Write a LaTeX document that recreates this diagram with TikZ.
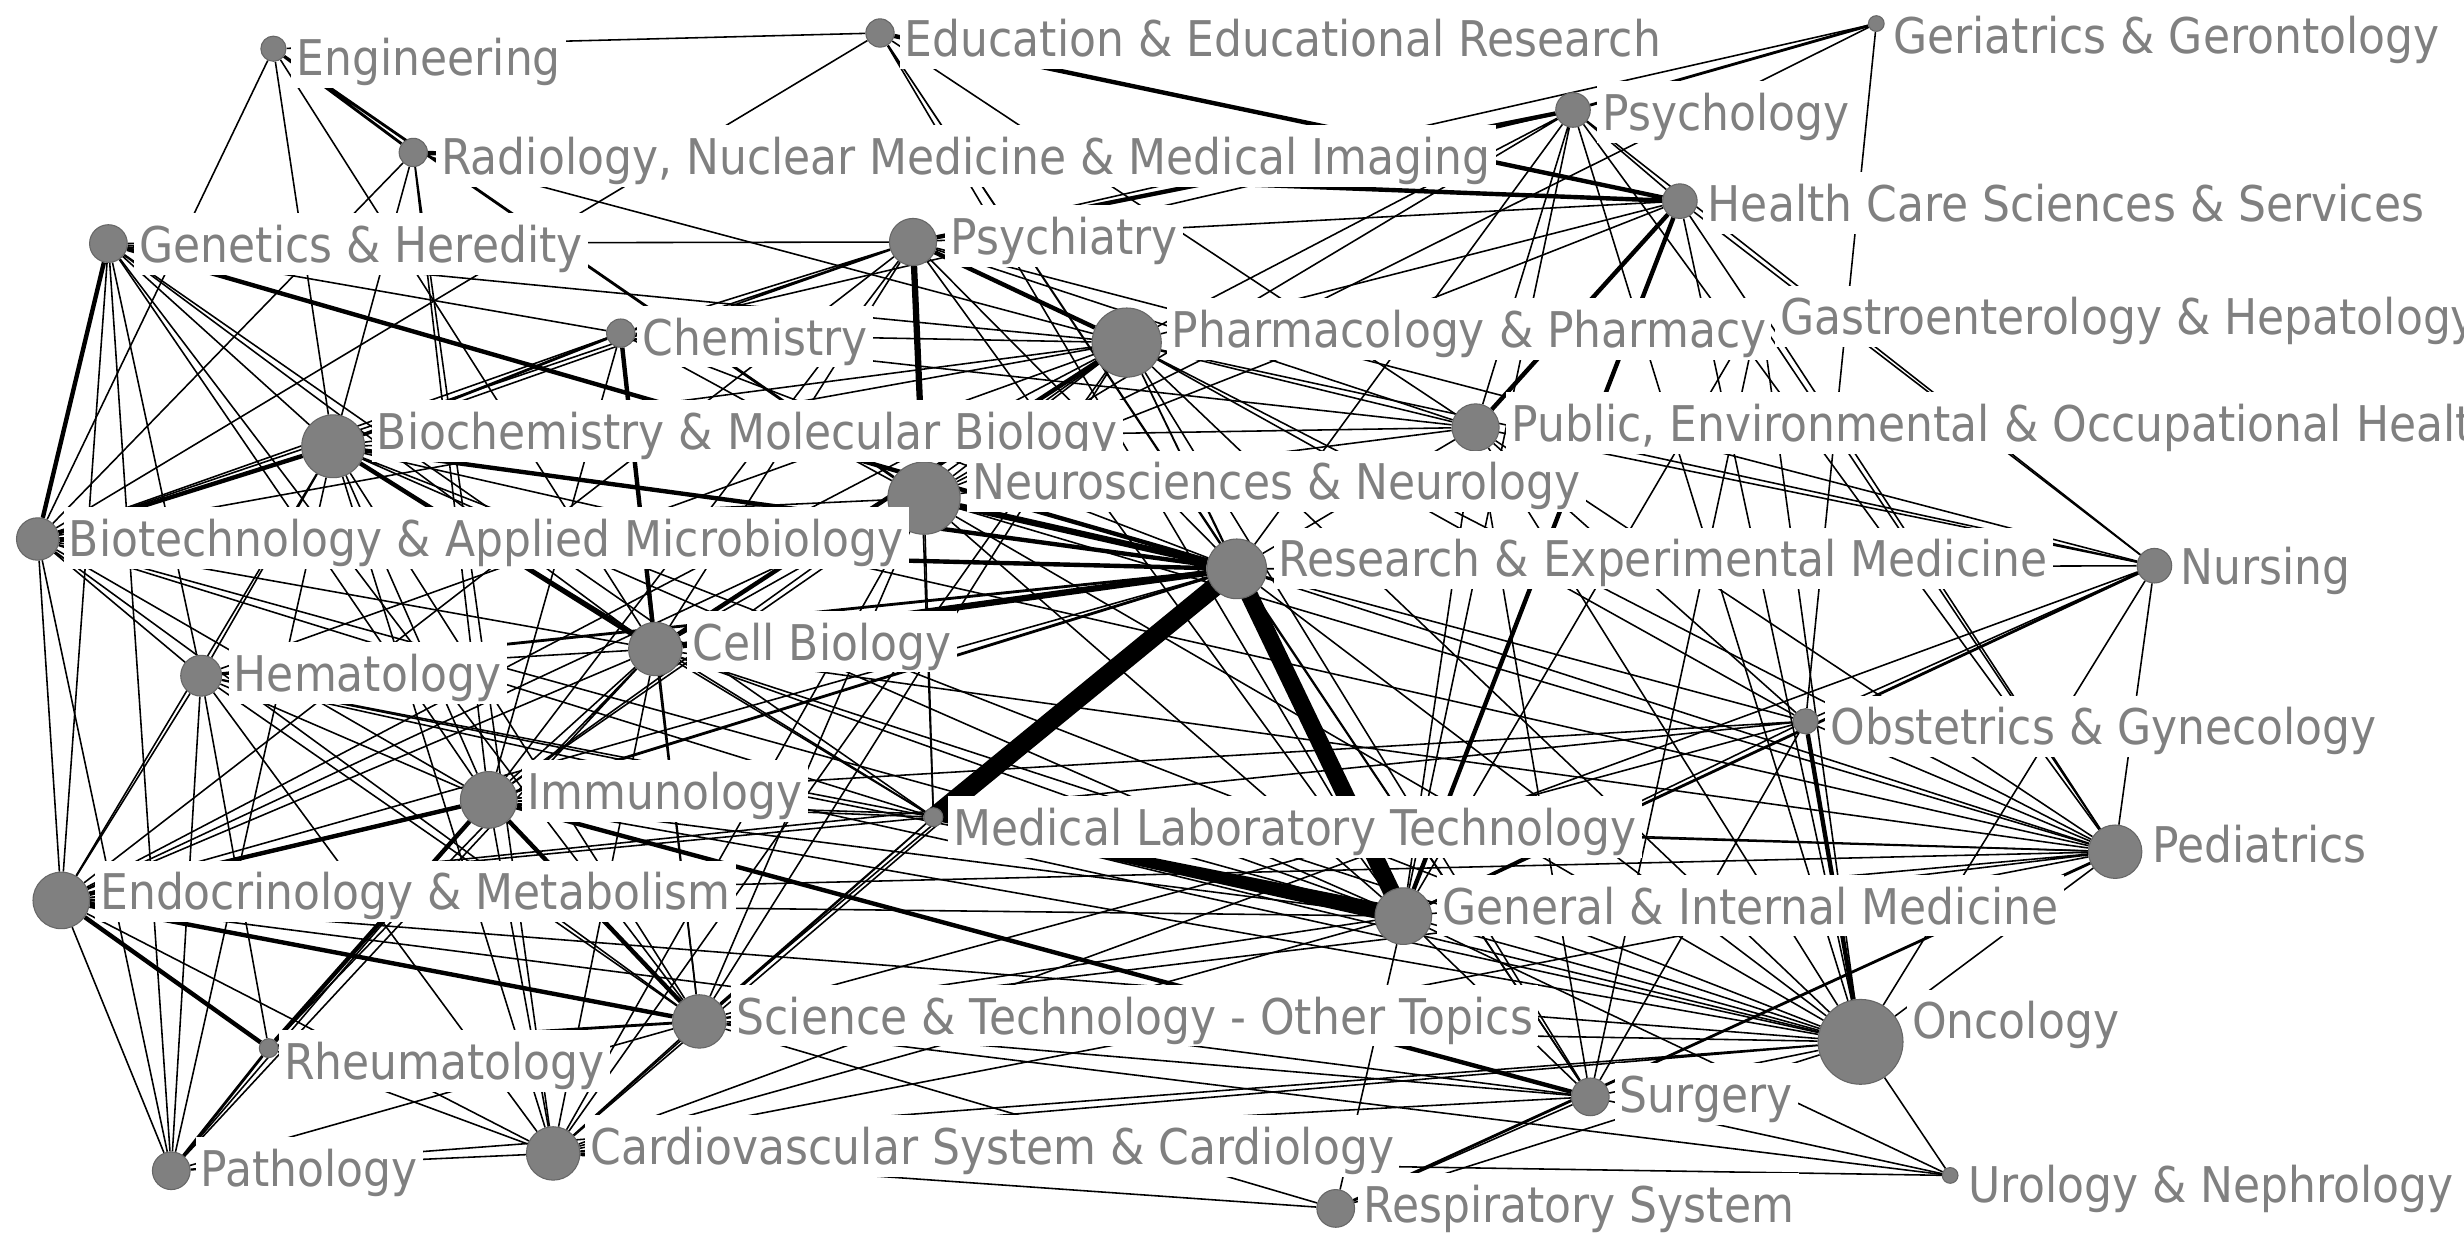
\documentclass[tikz,border=0pt]{standalone}
\usepackage{fontspec}
\setmainfont{DejaVu Sans}[FakeStretch=0.895]
\usetikzlibrary{backgrounds}
\definecolor{nodegray}{RGB}{128,128,128}
\definecolor{textgray}{RGB}{128,128,128}
\newlength\dpx
\setlength\dpx{0.015714cm}

\begin{document}
\begin{tikzpicture}[x=0.015714cm, y=-0.015714cm]
        \tikzstyle{every node}+=[inner sep=0pt]
        \tikzstyle{dotnode}=[circle, fill=nodegray, draw=black!60, line width=0.3pt]
        \tikzstyle{lbl}=[anchor=base west, fill=white, text=textgray, inner xsep=1.5pt, text height=14pt, text depth=3.5pt, font=\fontsize{14}{16}\selectfont]
        \tikzstyle{link}=[black, line width=1\dpx]
        \tikzstyle{linkm}=[black, line width=1.8\dpx]
        \tikzstyle{linkk}=[black, line width=2.8\dpx]
        \tikzstyle{linkkk}=[black, line width=4\dpx]
        \useasboundingbox (0,0) rectangle (1568,789);
        % subject areas
        \node [dotnode, minimum size=16\dpx] (eng) at (174,31) {};
        \node [dotnode, minimum size=18\dpx] (edu) at (560,21) {};
        \node [dotnode, minimum size=10\dpx] (ger) at (1194,15) {};
        \node [dotnode, minimum size=22\dpx] (psyl) at (1001,70) {};
        \node [dotnode, minimum size=18\dpx] (rad) at (263,97) {};
        \node [dotnode, minimum size=22\dpx] (hcs) at (1069,128) {};
        \node [dotnode, minimum size=24\dpx] (gen) at (69,155) {};
        \node [dotnode, minimum size=30\dpx] (psyc) at (581,154) {};
        \node [dotnode, minimum size=10\dpx] (gas) at (1120,196) {};
        \node [dotnode, minimum size=18\dpx] (chem) at (395,212) {};
        \node [dotnode, minimum size=44\dpx] (pha) at (717,218) {};
        \node [dotnode, minimum size=30\dpx] (pub) at (939,272) {};
        \node [dotnode, minimum size=40\dpx] (bio) at (212,284) {};
        \node [dotnode, minimum size=46\dpx] (neu) at (588,317) {};
        \node [dotnode, minimum size=27\dpx] (btc) at (24,343) {};
        \node [dotnode, minimum size=38\dpx] (res) at (787,362) {};
        \node [dotnode, minimum size=22\dpx] (nur) at (1371,360) {};
        \node [dotnode, minimum size=34\dpx] (cell) at (417,413) {};
        \node [dotnode, minimum size=26\dpx] (hem) at (128,430) {};
        \node [dotnode, minimum size=16\dpx] (obs) at (1149,459) {};
        \node [dotnode, minimum size=36\dpx] (imm) at (311,509) {};
        \node [dotnode, minimum size=12\dpx] (mlt) at (594,520) {};
        \node [dotnode, minimum size=34\dpx] (ped) at (1346,542) {};
        \node [dotnode, minimum size=36\dpx] (endo) at (39,573) {};
        \node [dotnode, minimum size=36\dpx] (gim) at (893,583) {};
        \node [dotnode, minimum size=54\dpx] (onc) at (1184,663) {};
        \node [dotnode, minimum size=34\dpx] (sci) at (445,650) {};
        \node [dotnode, minimum size=12\dpx] (rheu) at (171,667) {};
        \node [dotnode, minimum size=24\dpx] (sur) at (1012,698) {};
        \node [dotnode, minimum size=34\dpx] (car) at (352,734) {};
        \node [dotnode, minimum size=24\dpx] (patho) at (109,745) {};
        \node [dotnode, minimum size=24\dpx] (resp) at (850,769) {};
        \node [dotnode, minimum size=10\dpx] (uro) at (1241,748) {};
        % labels
        \node [lbl] (eng-l) at (185,48) {Engineering};
        \node [lbl] (edu-l) at (572,36) {Education \& Educational Research};
        \node [lbl] (ger-l) at (1201,34) {Geriatrics \& Gerontology};
        \node [lbl] (psyl-l) at (1016,83) {Psychology};
        \node [lbl] (rad-l) at (277,111) {Radiology, Nuclear Medicine \& Medical Imaging};
        \node [lbl] (hcs-l) at (1083,141) {Health Care Sciences \& Services};
        \node [lbl] (gen-l) at (85,167) {Genetics \& Heredity};
        \node [lbl] (psyc-l) at (601,162) {Psychiatry};
        \node [lbl] (gas-l) at (1129,213) {Gastroenterology \& Hepatology};
        \node [lbl] (chem-l) at (405,226) {Chemistry};
        \node [lbl] (pha-l) at (742,221) {Pharmacology \& Pharmacy};
        \node [lbl] (pub-l) at (958,281) {Public, Environmental \& Occupational Health};
        \node [lbl] (bio-l) at (236,286) {Biochemistry \& Molecular Biology};
        \node [lbl] (neu-l) at (615,318) {Neurosciences \& Neurology};
        \node [lbl] (btc-l) at (40,354) {Biotechnology \& Applied Microbiology};
        \node [lbl] (res-l) at (810,367) {Research \& Experimental Medicine};
        \node [lbl] (nur-l) at (1384,372) {Nursing};
        \node [lbl] (cell-l) at (437,420) {Cell Biology};
        \node [lbl] (hem-l) at (145,440) {Hematology};
        \node [lbl] (obs-l) at (1161,474) {Obstetrics \& Gynecology};
        \node [lbl] (imm-l) at (332,515) {Immunology};
        \node [lbl] (mlt-l) at (603,538) {Medical Laboratory Technology};
        \node [lbl] (ped-l) at (1366,549) {Pediatrics};
        \node [lbl] (endo-l) at (60,579) {Endocrinology \& Metabolism};
        \node [lbl] (gim-l) at (914,588) {General \& Internal Medicine};
        \node [lbl] (onc-l) at (1213,661) {Oncology};
        \node [lbl] (sci-l) at (465,658) {Science \& Technology - Other Topics};
        \node [lbl] (rheu-l) at (177,687) {Rheumatology};
        \node [lbl] (sur-l) at (1027,708) {Surgery};
        \node [lbl] (car-l) at (372,741) {Cardiovascular System \& Cardiology};
        \node [lbl] (patho-l) at (124,755) {Pathology};
        \node [lbl] (resp-l) at (864,778) {Respiratory System};
        \node [lbl] (uro-l) at (1249,765) {Urology \& Nephrology};
        \begin{pgfonlayer}{background}
        \fill [white] (0,0) rectangle (1568,789);
        % heavy links
        \draw [black, line width=12\dpx] (res.center) -- (mlt.center);
        \draw [black, line width=11\dpx] (res.center) -- (gim.center);
        \fill [black] ([yshift=2\dpx]mlt.center) -- ([yshift=5.5\dpx]gim.center) -- ([yshift=-5.5\dpx]gim.center) -- ([yshift=-2\dpx]mlt.center) -- cycle;
        \draw [linkkk] (res) -- (neu) (psyc) -- (neu) (res) -- (cell);
        \draw [linkk] (psyc) -- (pha) (hcs) -- (pub) (hcs) -- (gim) (rad) -- (hcs) (edu) -- (hcs) (psyl) -- (psyc);
        \draw [linkk] (gen) -- (btc) (bio) -- (btc) (bio) -- (cell) (bio) -- (res) (btc) -- (res) (gen) -- (res);
        \draw [linkk] (imm) -- (endo) (endo) -- (sci) (endo) -- (rheu) (rheu) -- (imm) (imm) -- (sci) (onc) -- (obs);
        \draw [linkk] (chem) -- (cell) (pha) -- (cell) (imm) -- (sur);
        \draw [linkm] (eng) -- (rad) (eng) -- (neu) (ger) -- (psyl) (chem) -- (bio) (nur) -- (gim) (imm) -- (res);
        \draw [linkm] (hem) -- (res) (rheu) -- (patho) (sci) -- (rheu) (ped) -- (resp);
        % thin links
        \draw [link] (eng) -- (edu) (eng) -- (btc) (eng) -- (bio) (eng) -- (cell);
        \draw [link] (edu) -- (res) (edu) -- (gim) (edu) -- (sur) (edu) -- (pub) (edu) -- (btc);
        \draw [link] (ger) -- (neu) (ger) -- (psyc) (ger) -- (obs);
        \draw [link] (psyl) -- (chem) (psyl) -- (hcs) (psyl) -- (pha) (psyl) -- (neu) (psyl) -- (res);
        \draw [link] (psyl) -- (pub) (psyl) -- (nur) (psyl) -- (onc) (psyl) -- (ped) (psyl) -- (gim);
        \draw [link] (rad) -- (bio) (rad) -- (imm) (rad) -- (pha) (rad) -- (car) (rad) -- (btc);
        \draw [link] (hcs) -- (psyc) (hcs) -- (pha) (hcs) -- (neu) (hcs) -- (nur) (hcs) -- (onc) (hcs) -- (ped);
        \draw [link] (gen) -- (bio) (gen) -- (chem) (gen) -- (psyc) (gen) -- (cell) (gen) -- (hem) (gen) -- (imm);
        \draw [link] (gen) -- (endo) (gen) -- (patho) (gen) -- (mlt) (gen) -- (sci) (gen) -- (pha);
        \draw [link] (psyc) -- (bio) (psyc) -- (chem) (psyc) -- (cell) (psyc) -- (btc) (psyc) -- (imm) (psyc) -- (pub);
        \draw [link] (psyc) -- (nur) (psyc) -- (gim) (psyc) -- (res) (psyc) -- (endo) (psyc) -- (mlt);
        \draw [link] (gas) -- (onc) (gas) -- (sur) (gas) -- (ped) (gas) -- (gim);
        \draw [link] (chem) -- (res) (chem) -- (neu) (chem) -- (pha) (chem) -- (imm) (chem) -- (btc) (chem) -- (sci);
        \draw [link] (pha) -- (bio) (pha) -- (neu) (pha) -- (pub) (pha) -- (btc) (pha) -- (imm) (pha) -- (hem) (pha) -- (endo);
        \draw [link] (pha) -- (res) (pha) -- (gim) (pha) -- (onc) (pha) -- (ped) (pha) -- (sci) (pha) -- (sur) (pha) -- (car) (pha) -- (obs);
        \draw [link] (pub) -- (bio) (pub) -- (neu) (pub) -- (res) (pub) -- (gim) (pub) -- (onc);
        \draw [link] (pub) -- (ped) (pub) -- (nur) (pub) -- (sur) (pub) -- (obs) (pub) -- (chem);
        \draw [link] (bio) -- (imm) (bio) -- (hem) (bio) -- (endo) (bio) -- (mlt) (bio) -- (sci);
        \draw [link] (bio) -- (car) (bio) -- (patho) (bio) -- (gim) (bio) -- (onc) (bio) -- (ped);
        \draw [link] (neu) -- (cell) (neu) -- (imm) (neu) -- (btc) (neu) -- (endo) (neu) -- (mlt);
        \draw [link] (neu) -- (gim) (neu) -- (car) (neu) -- (sci) (neu) -- (onc) (neu) -- (ped);
        \draw [link] (btc) -- (hem) (btc) -- (cell) (btc) -- (imm) (btc) -- (endo) (btc) -- (patho) (btc) -- (mlt) (btc) -- (sci) (btc) -- (gim);
        \draw [link] (res) -- (endo) (res) -- (sci) (res) -- (onc) (res) -- (ped) (res) -- (sur) (res) -- (obs) (res) -- (car) (res) -- (nur);
        \draw [link] (nur) -- (obs) (nur) -- (ped) (nur) -- (onc) (nur) -- (car) (nur) -- (pha);
        \draw [link] (cell) -- (hem) (cell) -- (imm) (cell) -- (endo) (cell) -- (mlt) (cell) -- (sci) (cell) -- (car);
        \draw [link] (cell) -- (gim) (cell) -- (onc) (cell) -- (ped) (cell) -- (patho) (cell) -- (rheu);
        \draw [link] (hem) -- (imm) (hem) -- (endo) (hem) -- (mlt) (hem) -- (sci) (hem) -- (car);
        \draw [link] (hem) -- (patho) (hem) -- (onc) (hem) -- (gim) (hem) -- (rheu);
        \draw [link] (obs) -- (ped) (obs) -- (gim) (obs) -- (sci) (obs) -- (sur) (obs) -- (imm) (obs) -- (endo);
        \draw [link] (imm) -- (mlt) (imm) -- (car) (imm) -- (patho) (imm) -- (gim) (imm) -- (onc) (imm) -- (ped);
        \draw [link] (mlt) -- (endo) (mlt) -- (sci) (mlt) -- (car) (mlt) -- (ped) (mlt) -- (onc);
        \draw [link] (ped) -- (endo) (ped) -- (gim) (ped) -- (sci) (ped) -- (onc) (ped) -- (car);
        \draw [link] (endo) -- (patho) (endo) -- (car) (endo) -- (gim) (endo) -- (onc) (endo) -- (sur);
        \draw [link] (gim) -- (onc) (gim) -- (sci) (gim) -- (sur) (gim) -- (car) (gim) -- (resp) (gim) -- (uro);
        \draw [link] (onc) -- (sci) (onc) -- (car) (onc) -- (sur) (onc) -- (resp) (onc) -- (uro) (onc) -- (patho);
        \draw [link] (sci) -- (car) (sci) -- (sur) (sci) -- (resp) (sci) -- (patho) (sci) -- (uro);
        \draw [link] (rheu) -- (car) (sur) -- (car) (sur) -- (resp) (sur) -- (uro);
        \draw [link] (car) -- (patho) (car) -- (resp) (car) -- (uro);
        \end{pgfonlayer}
\end{tikzpicture}
\end{document}
